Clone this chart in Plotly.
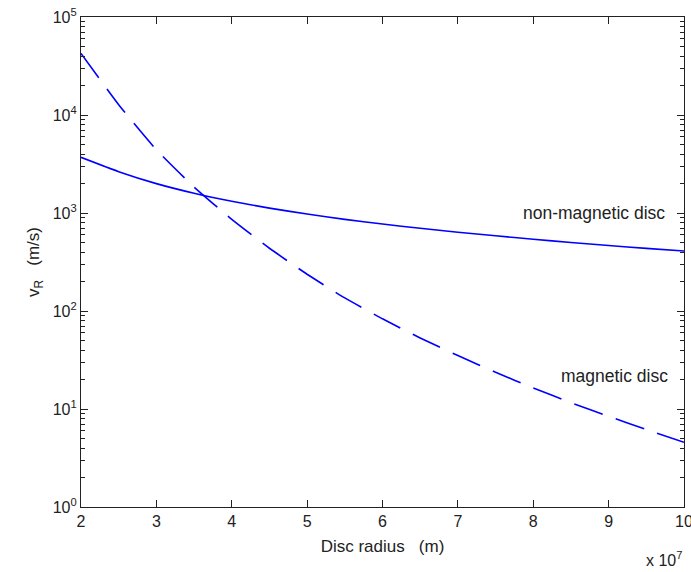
import plotly.graph_objects as go

# Disc radius in units of 1e7 m
radius = [2.0, 2.5, 3.0, 3.5, 4.0, 4.5, 5.0, 5.5, 6.0, 6.5, 7.0, 7.5, 8.0, 8.5, 9.0, 9.5, 10.0]

# Radial velocity v_R (m/s)
v_nonmagnetic = [3698, 2640, 1995, 1592, 1318, 1122, 975, 861, 771, 698, 637, 585, 540, 500, 466, 436, 409]
v_magnetic = [42560, 12735, 4416, 1841, 861, 437, 237, 136, 83.2, 53.1, 35.1, 23.7, 16.4, 11.6, 8.41, 6.17, 4.57]

x_ticks = [2, 3, 4, 5, 6, 7, 8, 9, 10]
y_decades = [0, 1, 2, 3, 4, 5]

FONT = "Liberation Sans, Arial, sans-serif"
BLUE = "rgb(0,0,255)"
INK = "#222"

y_major = [10 ** d for d in y_decades]
y_labels = ["10<sup>%d</sup>" % d for d in y_decades]
y_minor = [m * 10 ** d for d in y_decades[:-1] for m in range(2, 10)]

fig = go.Figure()
fig.add_trace(go.Scatter(x=radius, y=v_nonmagnetic, mode="lines",
                         line=dict(color=BLUE, width=1.6, shape="spline", smoothing=0.5)))
fig.add_trace(go.Scatter(x=radius, y=v_magnetic, mode="lines",
                         line=dict(color=BLUE, width=1.6, dash="30px,14px", shape="spline", smoothing=0.5)))

fig.update_layout(
    width=691, height=572,
    margin=dict(l=81, r=7, t=17, b=65),
    paper_bgcolor="white", plot_bgcolor="white",
    showlegend=False,
    font=dict(family=FONT, size=16, color=INK),
)

fig.update_xaxes(
    range=[2, 10.0001], tickmode="array", tickvals=x_ticks, ticktext=[str(v) for v in x_ticks],
    ticklabeloverflow="allow", automargin=False,
    ticks="inside", ticklen=7, tickcolor=INK, tickwidth=1,
    showline=True, linecolor=INK, linewidth=1.2, mirror="ticks",
    showgrid=False, zeroline=False,
    tickfont=dict(size=16, family=FONT),
    title=dict(text="Disc radius   (m)", font=dict(size=17, family=FONT), standoff=10),
)
fig.update_yaxes(
    type="log", range=[0, 5], tickmode="array", tickvals=y_major, ticktext=y_labels,
    automargin=False,
    ticks="inside", ticklen=7, tickcolor=INK, tickwidth=1,
    minor=dict(ticks="inside", ticklen=4, tickcolor=INK, tickmode="array", tickvals=y_minor, showgrid=False),
    showline=True, linecolor=INK, linewidth=1.2, mirror="ticks",
    showgrid=False, zeroline=False,
    tickfont=dict(size=16, family=FONT),
    title=dict(text="v<sub>R</sub>   (m/s)", font=dict(size=17, family=FONT), standoff=8),
)

fig.add_annotation(x=9.78, y=3.0, xref="x", yref="y", text="non-magnetic disc",
                   showarrow=False, xanchor="right", yanchor="middle", font=dict(size=17.5, family=FONT))
fig.add_annotation(x=9.82, y=1.34, xref="x", yref="y", text="magnetic disc",
                   showarrow=False, xanchor="right", yanchor="middle", font=dict(size=17.5, family=FONT))
fig.add_annotation(x=1.0, y=-0.106, xref="paper", yref="paper", text="x 10<sup>7</sup>",
                   showarrow=False, xanchor="right", yanchor="middle", font=dict(size=16, family=FONT))

fig.write_html("out.html")
